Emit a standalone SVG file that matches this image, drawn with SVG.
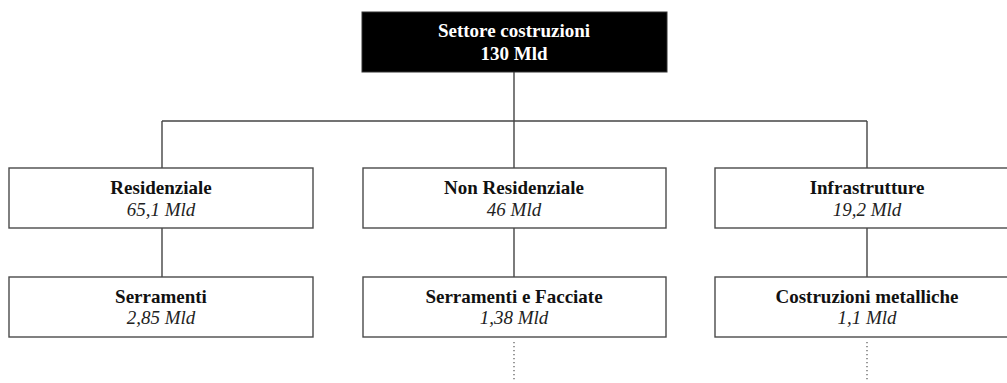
<svg xmlns="http://www.w3.org/2000/svg" width="1007" height="383" viewBox="0 0 1007 383">
  <style>
    .box { fill: #ffffff; stroke: #4a4a4a; stroke-width: 1.4; }
    .root { fill: #000000; stroke: #333333; stroke-width: 1; }
    .title { font-family: "Liberation Serif", "Times New Roman", serif; font-size: 19px; font-weight: bold; text-anchor: middle; fill: #111111; }
    .value { font-family: "Liberation Serif", "Times New Roman", serif; font-size: 19px; font-style: italic; text-anchor: middle; fill: #222222; }
    .white { fill: #ffffff; }
    .link { stroke: #444444; stroke-width: 1.4; fill: none; }
    .dots { stroke: #555555; stroke-width: 1.2; stroke-dasharray: 1.2 2.8; fill: none; }
  </style>

  <!-- connectors -->
  <g id="connectors">
    <line class="link" x1="514" y1="72" x2="514" y2="121"/>
    <line class="link" x1="162" y1="121" x2="867" y2="121"/>
    <line class="link" x1="162" y1="121" x2="162" y2="168"/>
    <line class="link" x1="514" y1="121" x2="514" y2="168"/>
    <line class="link" x1="867" y1="121" x2="867" y2="168"/>
    <line class="link" x1="162" y1="228" x2="162" y2="277"/>
    <line class="link" x1="514" y1="228" x2="514" y2="277"/>
    <line class="link" x1="867" y1="228" x2="867" y2="277"/>
    <line class="dots" x1="514" y1="342" x2="514" y2="381"/>
    <line class="dots" x1="867" y1="342" x2="867" y2="381"/>
  </g>

  <!-- root -->
  <g id="settore-costruzioni">
    <rect class="root" x="362" y="12" width="305" height="60"/>
    <text class="title white" x="514" y="37">Settore costruzioni</text>
    <text class="title white" x="514" y="60">130 Mld</text>
  </g>

  <!-- second level -->
  <g id="residenziale">
    <rect class="box" x="9" y="168" width="304" height="60"/>
    <text class="title" x="161" y="194">Residenziale</text>
    <text class="value" x="161" y="216">65,1 Mld</text>
  </g>
  <g id="non-residenziale">
    <rect class="box" x="363" y="168" width="303" height="60"/>
    <text class="title" x="514" y="194">Non Residenziale</text>
    <text class="value" x="514" y="216">46 Mld</text>
  </g>
  <g id="infrastrutture">
    <rect class="box" x="715" y="168" width="304" height="60"/>
    <text class="title" x="867" y="194">Infrastrutture</text>
    <text class="value" x="867" y="216">19,2 Mld</text>
  </g>

  <!-- third level -->
  <g id="serramenti">
    <rect class="box" x="9" y="277" width="304" height="60"/>
    <text class="title" x="161" y="303">Serramenti</text>
    <text class="value" x="161" y="324">2,85 Mld</text>
  </g>
  <g id="serramenti-facciate">
    <rect class="box" x="363" y="277" width="303" height="60"/>
    <text class="title" x="514" y="303">Serramenti e Facciate</text>
    <text class="value" x="514" y="324">1,38 Mld</text>
  </g>
  <g id="costruzioni-metalliche">
    <rect class="box" x="715" y="277" width="304" height="60"/>
    <text class="title" x="867" y="303">Costruzioni metalliche</text>
    <text class="value" x="867" y="324">1,1 Mld</text>
  </g>
</svg>
